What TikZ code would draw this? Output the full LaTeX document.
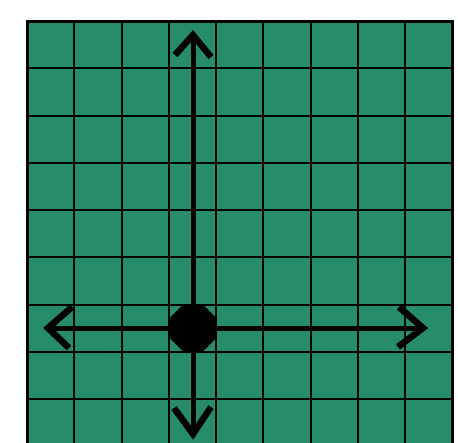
\documentclass[tikz,border=0pt]{standalone}
\usetikzlibrary{shapes.geometric}
\definecolor{boardgreen}{RGB}{38,140,105}
\begin{document}
\begin{tikzpicture}[x=1pt,y=-1pt,
  gridline/.style={draw=black,line width=2pt},
  frameline/.style={draw=black,line width=3pt},
  axisline/.style={draw=black,line width=5pt},
  chevron/.style={draw=black,line width=6.5pt,line join=miter,line cap=butt},
  centerdot/.style={regular polygon,regular polygon sides=8,fill=black,minimum size=51pt,inner sep=0pt}]
\useasboundingbox (0,0) rectangle (458,442);
\fill[white] (0,0) rectangle (458,442);
\begin{scope}
\clip (0,0) rectangle (458,442);
\fill[boardgreen] (27,21) rectangle (452.25,470);
\foreach \i in {1,...,8} \draw[gridline] ({27+47.25*\i},21) -- ({27+47.25*\i},470);
\foreach \j in {1,...,9} \draw[gridline] (27,{21+47.25*\j}) -- (452.25,{21+47.25*\j});
\draw[frameline] (27,470) -- (27,21) -- (452.25,21) -- (452.25,470);
\end{scope}
\coordinate (c) at (193,328);
\coordinate (n) at (193,35);
\coordinate (s) at (193,434);
\coordinate (w) at (48,328);
\coordinate (e) at (423,328);
\draw[axisline] (c) -- (n);
\draw[axisline] (c) -- (s);
\draw[axisline] (c) -- (w);
\draw[axisline] (c) -- (e);
\draw[chevron] (175,55) -- (n) -- (211,57);
\draw[chevron] (174,408) -- (s) -- (211,407);
\draw[chevron] (72,307) -- (w) -- (69,348);
\draw[chevron] (399,307) -- (e) -- (398,347);
\node[centerdot] (dot) at (c) {};
\end{tikzpicture}
\end{document}
